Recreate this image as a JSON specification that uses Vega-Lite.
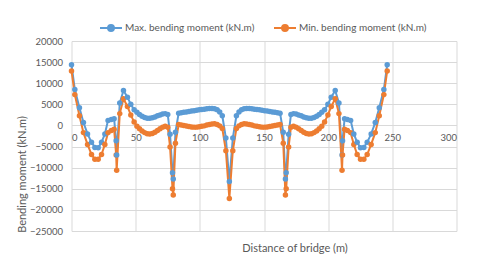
{
  "$schema": "https://vega.github.io/schema/vega-lite/v6.json",
  "width": 385,
  "height": 190,
  "autosize": "none",
  "padding": {"left": 71.5, "top": 41, "right": 23.5, "bottom": 42},
  "background": "white",
  "config": {
    "view": {"stroke": null},
    "font": "Lato",
    "axis": {"labelColor": "#595959", "titleColor": "#595959", "gridColor": "#D9D9D9", "gridWidth": 1, "tickSize": 0, "domain": false, "labelFont": "Lato", "titleFont": "Lato", "titleFontWeight": "normal"},
    "legend": {"labelFont": "Lato", "labelColor": "#595959"}
  },
  "data": {
    "values": [
      {"x": 0, "max": 14400, "min": 12900},
      {"x": 2.6, "max": 8500, "min": 7300},
      {"x": 6.2, "max": 4200, "min": 2300},
      {"x": 9.3, "max": 700, "min": -1700},
      {"x": 12.5, "max": -2000, "min": -4500},
      {"x": 15.6, "max": -4000, "min": -6900},
      {"x": 18.2, "max": -5200, "min": -8000},
      {"x": 20.8, "max": -5300, "min": -8000},
      {"x": 23.4, "max": -4000, "min": -6900},
      {"x": 26, "max": -2000, "min": -4500},
      {"x": 28.5, "max": 1200, "min": -1700},
      {"x": 31, "max": 1400, "min": -1200},
      {"x": 33.2, "max": 1600, "min": -900},
      {"x": 34.8, "max": -3600, "min": -7000},
      {"x": 35.2, "max": -7000, "min": -10600},
      {"x": 37.6, "max": 5300, "min": 2800},
      {"x": 40.5, "max": 8300, "min": 6300},
      {"x": 43.6, "max": 6700, "min": 4500},
      {"x": 46.2, "max": 5000, "min": 2500},
      {"x": 48.8, "max": 3700, "min": 800},
      {"x": 51, "max": 3100, "min": -200},
      {"x": 53, "max": 2600, "min": -800},
      {"x": 55, "max": 2200, "min": -1300},
      {"x": 57, "max": 1900, "min": -1700},
      {"x": 59, "max": 1700, "min": -1950},
      {"x": 61, "max": 1700, "min": -2000},
      {"x": 63, "max": 1800, "min": -1900},
      {"x": 65, "max": 2000, "min": -1600},
      {"x": 67, "max": 2300, "min": -1200},
      {"x": 69, "max": 2500, "min": -800},
      {"x": 71, "max": 2700, "min": -400},
      {"x": 73, "max": 2800, "min": -200},
      {"x": 75, "max": 2600, "min": -400},
      {"x": 76.8, "max": -2100, "min": -5100},
      {"x": 78.7, "max": -11200, "min": -15000},
      {"x": 79.3, "max": -12700, "min": -16500},
      {"x": 81, "max": -1600, "min": -4200},
      {"x": 83.5, "max": 2900, "min": 200},
      {"x": 85.5, "max": 3000, "min": 100},
      {"x": 87.5, "max": 3100, "min": 0},
      {"x": 89.5, "max": 3200, "min": -150},
      {"x": 91.5, "max": 3300, "min": -250},
      {"x": 93.5, "max": 3400, "min": -350},
      {"x": 95.5, "max": 3500, "min": -400},
      {"x": 97.5, "max": 3600, "min": -400},
      {"x": 99.5, "max": 3700, "min": -300},
      {"x": 101.5, "max": 3800, "min": -200},
      {"x": 103.5, "max": 3850, "min": -100},
      {"x": 105.5, "max": 3950, "min": 100},
      {"x": 107.5, "max": 4000, "min": 250},
      {"x": 109.5, "max": 4000, "min": 350},
      {"x": 111.5, "max": 3950, "min": 400},
      {"x": 113.5, "max": 3700, "min": 250},
      {"x": 115.5, "max": 3200, "min": -100},
      {"x": 117.5, "max": 2300, "min": -700},
      {"x": 120.3, "max": -3000, "min": -6000},
      {"x": 123, "max": -13300, "min": -17300},
      {"x": 125.7, "max": -3000, "min": -6000},
      {"x": 128.5, "max": 2300, "min": -700},
      {"x": 130.5, "max": 3200, "min": -100},
      {"x": 132.5, "max": 3700, "min": 250},
      {"x": 134.5, "max": 3950, "min": 400},
      {"x": 136.5, "max": 4000, "min": 350},
      {"x": 138.5, "max": 4000, "min": 250},
      {"x": 140.5, "max": 3950, "min": 100},
      {"x": 142.5, "max": 3850, "min": -100},
      {"x": 144.5, "max": 3800, "min": -200},
      {"x": 146.5, "max": 3700, "min": -300},
      {"x": 148.5, "max": 3600, "min": -400},
      {"x": 150.5, "max": 3500, "min": -400},
      {"x": 152.5, "max": 3400, "min": -350},
      {"x": 154.5, "max": 3300, "min": -250},
      {"x": 156.5, "max": 3200, "min": -150},
      {"x": 158.5, "max": 3100, "min": 0},
      {"x": 160.5, "max": 3000, "min": 100},
      {"x": 162.5, "max": 2900, "min": 200},
      {"x": 165, "max": -1600, "min": -4200},
      {"x": 166.7, "max": -12700, "min": -16500},
      {"x": 167.3, "max": -11200, "min": -15000},
      {"x": 169.2, "max": -2100, "min": -5100},
      {"x": 171, "max": 2600, "min": -400},
      {"x": 173, "max": 2800, "min": -200},
      {"x": 175, "max": 2700, "min": -400},
      {"x": 177, "max": 2500, "min": -800},
      {"x": 179, "max": 2300, "min": -1200},
      {"x": 181, "max": 2000, "min": -1600},
      {"x": 183, "max": 1800, "min": -1900},
      {"x": 185, "max": 1700, "min": -2000},
      {"x": 187, "max": 1700, "min": -1950},
      {"x": 189, "max": 1900, "min": -1700},
      {"x": 191, "max": 2200, "min": -1300},
      {"x": 193, "max": 2600, "min": -800},
      {"x": 195, "max": 3100, "min": -200},
      {"x": 197.2, "max": 3700, "min": 800},
      {"x": 199.8, "max": 5000, "min": 2500},
      {"x": 202.4, "max": 6700, "min": 4500},
      {"x": 205.5, "max": 8300, "min": 6300},
      {"x": 208.4, "max": 5300, "min": 2800},
      {"x": 210.8, "max": -7000, "min": -10600},
      {"x": 211.2, "max": -3600, "min": -7000},
      {"x": 212.8, "max": 1600, "min": -900},
      {"x": 215, "max": 1400, "min": -1200},
      {"x": 217.5, "max": 1200, "min": -1700},
      {"x": 220, "max": -2000, "min": -4500},
      {"x": 222.6, "max": -4000, "min": -6900},
      {"x": 225.2, "max": -5300, "min": -8000},
      {"x": 227.8, "max": -5200, "min": -8000},
      {"x": 230.4, "max": -4000, "min": -6900},
      {"x": 233.5, "max": -2000, "min": -4500},
      {"x": 236.7, "max": 700, "min": -1700},
      {"x": 239.8, "max": 4200, "min": 2300},
      {"x": 243.4, "max": 8500, "min": 7300},
      {"x": 246, "max": 14400, "min": 12900}
    ]
  },
  "transform": [{"fold": ["max", "min"], "as": ["series", "value"]}],
  "mark": {"type": "line", "strokeWidth": 2, "point": {"filled": true, "size": 30, "opacity": 1}},
  "encoding": {
    "x": {
      "field": "x", "type": "quantitative",
      "scale": {"domain": [0, 300], "nice": false},
      "axis": {"values": [0, 50, 100, 150, 200, 250, 300], "offset": -105.56, "labelPadding": 7, "labelFontSize": 9.5, "title": "Distance of bridge (m)", "titleFontSize": 11, "titleX": 223, "titleY": 123, "titleBaseline": "middle", "titleAlign": "center"}
    },
    "y": {
      "field": "value", "type": "quantitative",
      "scale": {"domain": [-25000, 20000], "nice": false},
      "axis": {"values": [-25000, -20000, -15000, -10000, -5000, 0, 5000, 10000, 15000, 20000], "format": "d", "labelPadding": 9, "labelFontSize": 9.5, "title": "Bending moment (kN.m)", "titleFontSize": 11, "titleX": -49.5, "titleY": 133, "titleBaseline": "middle", "titleAlign": "center", "titleAngle": 270}
    },
    "color": {
      "field": "series", "type": "nominal",
      "scale": {"domain": ["max", "min"], "range": ["#5B9BD5", "#ED7D31"]},
      "legend": {
        "title": null, "orient": "none", "direction": "horizontal", "legendX": 27.5, "legendY": -25,
        "labelExpr": "datum.label == 'max' ? 'Max. bending moment (kN.m)' : 'Min. bending moment (kN.m)'",
        "labelFontSize": 10, "labelOffset": 2, "columnPadding": 15,
        "symbolType": "M-1,0H1M-0.27,0A0.27,0.27,0,1,1,0.27,0A0.27,0.27,0,1,1,-0.27,0Z",
        "symbolSize": 484, "symbolStrokeWidth": 2,
        "encode": {"symbols": {"update": {"fill": {"scale": "color", "field": "value"}, "stroke": {"scale": "color", "field": "value"}}}}
      }
    }
  }
}
